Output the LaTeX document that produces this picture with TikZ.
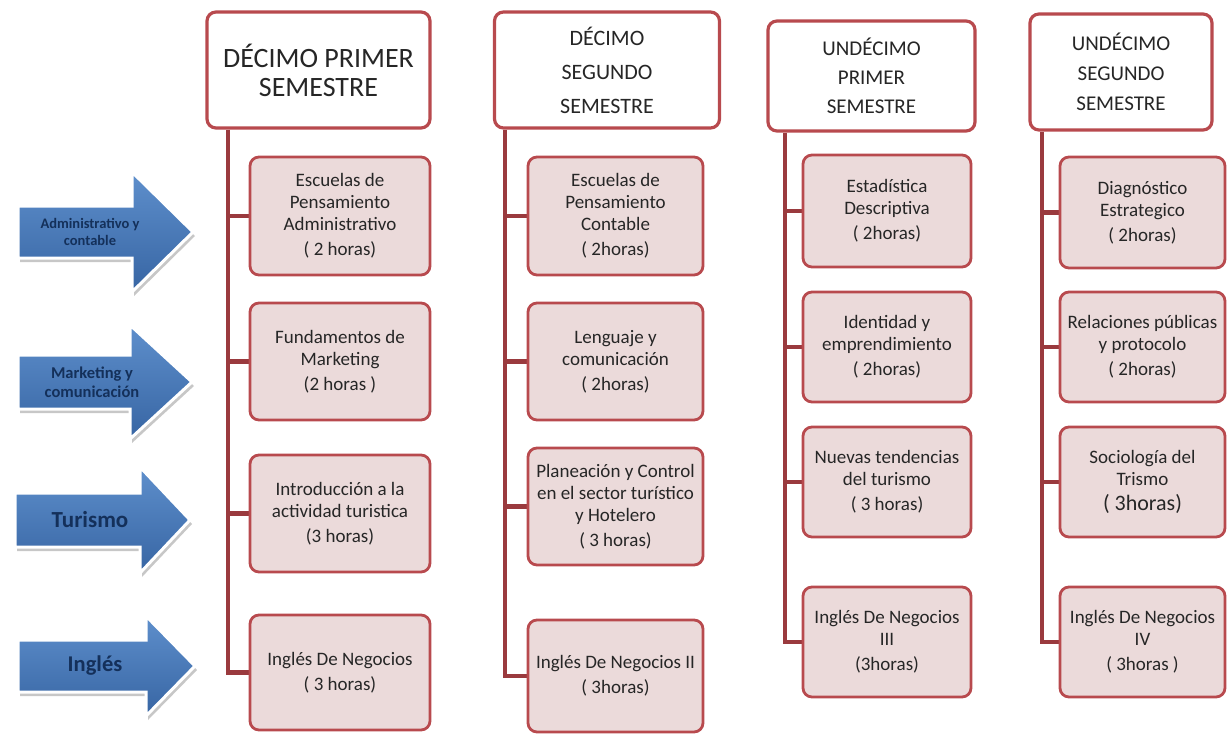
\documentclass[tikz,border=0pt]{standalone}
\usepackage{fontspec}
\setmainfont{Carlito}
\usetikzlibrary{calc,backgrounds}
\definecolor{boxred}{HTML}{B84A4E}
\definecolor{connred}{HTML}{9A3A3E}
\definecolor{boxfill}{HTML}{EBDADA}
\definecolor{txt}{HTML}{262626}
\definecolor{arrtop}{HTML}{5E8FCC}
\definecolor{arrbot}{HTML}{3765A3}
\definecolor{arrtxt}{HTML}{14305A}
% #1 mid y, #2 body half, #3 head half, #4 head base x, #5 tip x, #6 left x
\newcommand\myarrowpath[6]{(#6,#1-#2) -- (#4,#1-#2) -- (#4,#1-#3) -- (#5,#1) -- (#4,#1+#3) -- (#4,#1+#2) -- (#6,#1+#2) -- cycle}
\begin{document}
\begin{tikzpicture}[x=1pt,y=-1pt,
 hdr/.style={draw=boxred, line width=3.2pt, rounded corners=9pt, fill=white, align=center, text=txt, inner sep=0pt},
 child/.style={draw=boxred, line width=2.8pt, rounded corners=9pt, fill=boxfill, align=center, text=txt, font=\fontsize{19}{22}\selectfont, inner sep=0pt},
 conn/.style={draw=connred, line width=4.5pt},
 arrowtxt/.style={text=arrtxt, align=center},
 arrshadow/.style={fill=black, opacity=0.22},
 arrbody/.style={top color=arrtop, bottom color=arrbot, draw=white, line width=3pt, line join=miter}
]
\useasboundingbox (0,0) rectangle (1229,734);

% ---- blue arrows ----
\fill[arrshadow, shift={(2,4)}] \myarrowpath{232}{26}{60}{132}{193}{18};
\path[arrbody] \myarrowpath{232}{26}{60}{132}{193}{18};
\fill[arrshadow, shift={(2,4)}] \myarrowpath{382}{27}{57}{130}{192}{18};
\path[arrbody] \myarrowpath{382}{27}{57}{130}{192}{18};
\fill[arrshadow, shift={(2,4)}] \myarrowpath{520}{27}{53}{140}{190}{15};
\path[arrbody] \myarrowpath{520}{27}{53}{140}{190}{15};
\fill[arrshadow, shift={(2,4)}] \myarrowpath{666}{26}{50}{146}{195}{18};
\path[arrbody] \myarrowpath{666}{26}{50}{146}{195}{18};

\node[arrowtxt, font=\bfseries\fontsize{14.5}{17}\selectfont] (a1) at (90,232) {Administrativo y\\contable};
\node[arrowtxt, font=\bfseries\fontsize{16.5}{19}\selectfont] (a2) at (92,382) {Marketing y\\comunicación};
\node[arrowtxt, font=\bfseries\fontsize{23}{26}\selectfont] (a3) at (90,520) {Turismo};
\node[arrowtxt, font=\bfseries\fontsize{22.5}{26}\selectfont] (a4) at (95,666) {Inglés};

% ---- headers ----
\node[hdr, minimum width=223pt, minimum height=116pt, font=\fontsize{28}{29}\selectfont] (h1) at (318.5,70) {DÉCIMO PRIMER\\SEMESTRE};
\node[hdr, minimum width=225pt, minimum height=116pt, font=\fontsize{22}{34}\selectfont] (h2) at (607,70) {DÉCIMO\\SEGUNDO\\SEMESTRE};
\node[hdr, minimum width=207pt, minimum height=110pt, font=\fontsize{21}{29}\selectfont] (h3) at (871.5,76) {UNDÉCIMO\\PRIMER\\SEMESTRE};
\node[hdr, minimum width=182pt, minimum height=116pt, font=\fontsize{21}{30}\selectfont] (h4) at (1121,72) {UNDÉCIMO\\SEGUNDO\\SEMESTRE};

% ---- column 1 ----
\node[child, minimum width=180pt, minimum height=118pt] (c11) at (340,216) {Escuelas de\\Pensamiento\\Administrativo\\[3pt]( 2 horas)};
\node[child, minimum width=180pt, minimum height=117pt] (c12) at (340,361.5) {Fundamentos de\\Marketing\\[3pt](2 horas )};
\node[child, minimum width=180pt, minimum height=117pt] (c13) at (340,513.5) {Introducción a la\\actividad turistica\\[3pt](3 horas)};
\node[child, minimum width=180pt, minimum height=115pt] (c14) at (340,672.5) {Inglés De Negocios\\[3pt]( 3 horas)};

% ---- column 2 ----
\node[child, minimum width=175pt, minimum height=118pt] (c21) at (615.5,216) {Escuelas de\\Pensamiento\\Contable\\[3pt]( 2horas)};
\node[child, minimum width=175pt, minimum height=117pt] (c22) at (615.5,361.5) {Lenguaje y\\comunicación\\[3pt]( 2horas)};
\node[child, minimum width=175pt, minimum height=117pt] (c23) at (615.5,506.5) {Planeación y Control\\en el sector turístico\\y Hotelero\\[3pt]( 3 horas)};
\node[child, minimum width=175pt, minimum height=112pt] (c24) at (615.5,676) {Inglés De Negocios II\\[3pt]( 3horas)};

% ---- column 3 ----
\node[child, minimum width=168pt, minimum height=112pt] (c31) at (887,211) {Estadística\\Descriptiva\\[3pt]( 2horas)};
\node[child, minimum width=168pt, minimum height=110pt] (c32) at (887,347) {Identidad y\\emprendimiento\\[3pt]( 2horas)};
\node[child, minimum width=168pt, minimum height=110pt] (c33) at (887,482) {Nuevas tendencias\\del turismo\\[3pt]( 3 horas)};
\node[child, minimum width=168pt, minimum height=110pt] (c34) at (887,642) {Inglés De Negocios\\III\\[3pt](3horas)};

% ---- column 4 ----
\node[child, minimum width=165pt, minimum height=111pt] (c41) at (1142.5,212.5) {Diagnóstico\\Estrategico\\[3pt]( 2horas)};
\node[child, minimum width=165pt, minimum height=110pt] (c42) at (1142.5,347) {Relaciones públicas\\y protocolo\\[3pt]( 2horas)};
\node[child, minimum width=165pt, minimum height=110pt] (c43) at (1142.5,482) {Sociología del\\Trismo\\[3pt]{\fontsize{22}{24}\selectfont( 3horas)}};
\node[child, minimum width=165pt, minimum height=110pt] (c44) at (1142.5,642) {Inglés De Negocios\\IV\\[3pt]( 3horas )};

% ---- trunks ----
\coordinate (t1) at (228,0);
\coordinate (t2) at (505,0);
\coordinate (t3) at (785,0);
\coordinate (t4) at (1042,0);

\begin{scope}[on background layer]
\draw[conn] (h1.south -| t1) |- (c14.west);
\draw[conn] (c11.west) -- (c11.west -| t1);
\draw[conn] (c12.west) -- (c12.west -| t1);
\draw[conn] (c13.west) -- (c13.west -| t1);

\draw[conn] (h2.south -| t2) |- (c24.west);
\draw[conn] (c21.west) -- (c21.west -| t2);
\draw[conn] (c22.west) -- (c22.west -| t2);
\draw[conn] (c23.west) -- (c23.west -| t2);

\draw[conn] (h3.south -| t3) |- (c34.west);
\draw[conn] (c31.west) -- (c31.west -| t3);
\draw[conn] (c32.west) -- (c32.west -| t3);
\draw[conn] (c33.west) -- (c33.west -| t3);

\draw[conn] (h4.south -| t4) |- (c44.west);
\draw[conn] (c41.west) -- (c41.west -| t4);
\draw[conn] (c42.west) -- (c42.west -| t4);
\draw[conn] (c43.west) -- (c43.west -| t4);
\end{scope}
\end{tikzpicture}
\end{document}
